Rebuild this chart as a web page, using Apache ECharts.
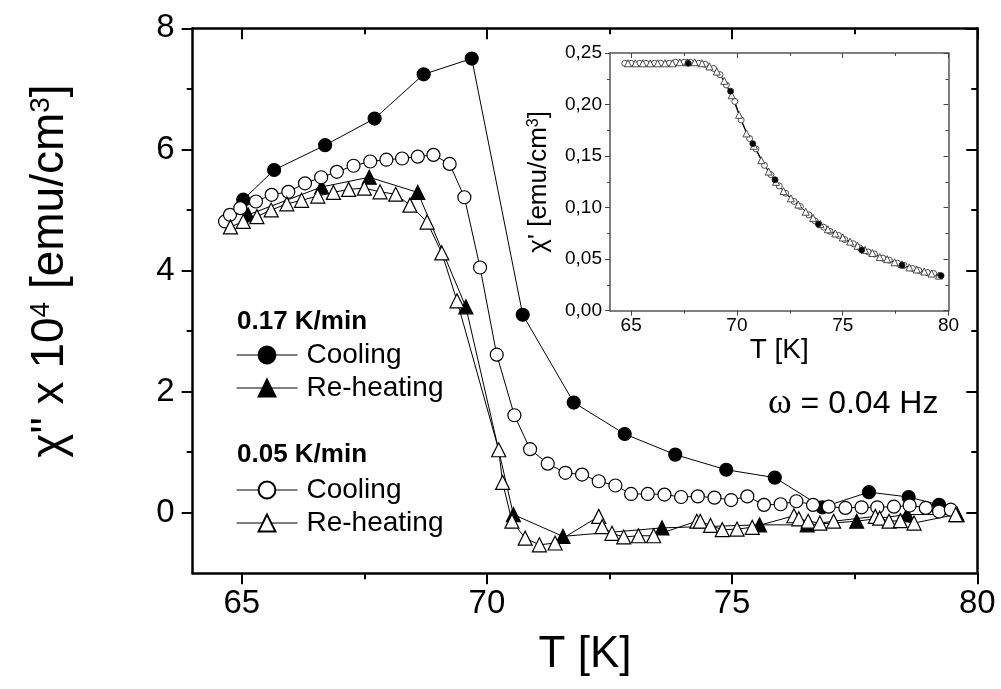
<!DOCTYPE html>
<html>
<head>
<meta charset="utf-8">
<script src="https://cdn.jsdelivr.net/npm/echarts@6/dist/echarts.min.js"></script>
<style>html,body{margin:0;padding:0;background:#fff}#c{width:1001px;height:689px}</style>
</head>
<body>
<div id="c"></div>
<script>
// ---------- tick labels ----------
const xMajor = [65, 70, 75, 80];
const xMinor = [67.5, 72.5, 77.5];
const yMajor = [0, 2, 4, 6, 8];
const yMinor = [1, 3, 5, 7];
const inYMajor = [0, 0.05, 0.10, 0.15, 0.20, 0.25];
const inYMinor = [0.025, 0.075, 0.125, 0.175, 0.225];

// ---------- main panel: chi'' x 10^4 ----------
// 0.17 K/min cooling (filled circles)
const coolFastT = [65.03, 65.66, 66.70, 67.71, 68.71, 69.69, 70.73, 71.77, 72.81, 73.84, 74.88, 75.87, 76.84, 77.79, 78.60, 79.22];
const coolFastV = [5.17, 5.66, 6.07, 6.51, 7.24, 7.50, 3.27, 1.82, 1.30, 0.96, 0.71, 0.58, 0.09, 0.34, 0.26, 0.13];
// 0.17 K/min re-heating (filled triangles)
const heatFastT = [65.13, 66.63, 67.60, 68.59, 69.57, 70.54, 71.55, 73.57, 75.56, 76.53, 77.54, 78.57, 79.59];
const heatFastV = [4.92, 5.38, 5.54, 5.29, 3.40, -0.03, -0.39, -0.25, -0.20, -0.20, -0.14, -0.03, -0.03];
// 0.05 K/min cooling (open circles)
const coolSlowT = [64.66, 64.76, 64.97, 65.29, 65.61, 65.95, 66.29, 66.62, 66.94, 67.28, 67.62, 67.95, 68.27, 68.59, 68.91, 69.24, 69.54, 69.86, 70.20, 70.56, 70.88, 71.24, 71.60, 71.94, 72.28, 72.62, 72.94, 73.28, 73.62, 73.96, 74.30, 74.64, 74.98, 75.31, 75.65, 75.99, 76.31, 76.65, 76.97, 77.31, 77.64, 77.96, 78.30, 78.62, 78.95, 79.22, 79.46];
const coolSlowV = [4.81, 4.92, 5.03, 5.14, 5.25, 5.30, 5.44, 5.54, 5.63, 5.73, 5.80, 5.83, 5.85, 5.88, 5.91, 5.76, 5.21, 4.05, 2.61, 1.61, 1.05, 0.81, 0.66, 0.63, 0.52, 0.45, 0.31, 0.31, 0.30, 0.26, 0.27, 0.25, 0.21, 0.27, 0.13, 0.14, 0.19, 0.13, 0.10, 0.08, 0.09, 0.09, 0.10, 0.12, 0.08, 0.02, 0.05];
// 0.05 K/min re-heating (open triangles)
const heatSlowT = [64.77, 65.03, 65.31, 65.60, 65.92, 66.22, 66.55, 66.87, 67.18, 67.50, 67.82, 68.14, 68.43, 68.78, 69.08, 69.39, 70.24, 70.32, 70.51, 70.78, 71.07, 71.39, 72.28, 72.35, 72.55, 72.79, 73.09, 73.40, 74.28, 74.35, 74.56, 74.80, 75.10, 75.41, 76.26, 76.36, 76.55, 76.79, 77.07, 77.92, 78.01, 78.20, 78.43, 78.71, 79.56];
const heatSlowV = [4.72, 4.81, 4.89, 5.00, 5.10, 5.16, 5.23, 5.29, 5.34, 5.36, 5.30, 5.26, 5.08, 4.80, 4.29, 3.50, 1.04, 0.50, -0.14, -0.42, -0.53, -0.50, -0.06, -0.23, -0.34, -0.40, -0.38, -0.38, -0.14, -0.14, -0.21, -0.28, -0.27, -0.24, -0.05, -0.10, -0.14, -0.17, -0.14, -0.06, -0.09, -0.14, -0.13, -0.17, -0.03];

// ---------- inset: chi' ----------
const inCircT = [64.7, 65.0, 65.4, 65.7, 66.1, 66.4, 66.8, 67.1, 67.5, 67.8, 68.2, 68.5, 68.9, 69.2, 69.5, 69.9, 70.2, 70.6, 70.9, 71.3, 71.6, 72.0, 72.3, 72.7, 73.0, 73.4, 73.7, 74.1, 74.4, 74.8, 75.1, 75.5, 75.8, 76.2, 76.5, 76.9, 77.2, 77.6, 77.9, 78.3, 78.6, 79.0, 79.3, 79.6];
const inCircV = [0.240, 0.240, 0.240, 0.240, 0.240, 0.240, 0.240, 0.241, 0.241, 0.241, 0.240, 0.239, 0.235, 0.229, 0.219, 0.203, 0.185, 0.167, 0.157, 0.141, 0.132, 0.121, 0.114, 0.106, 0.101, 0.093, 0.087, 0.081, 0.077, 0.073, 0.069, 0.065, 0.061, 0.057, 0.055, 0.051, 0.049, 0.046, 0.044, 0.041, 0.039, 0.037, 0.036, 0.034];
const inTriT = [64.85, 65.2, 65.55, 65.9, 66.25, 66.6, 66.95, 67.3, 67.65, 68.0, 68.35, 68.7, 69.05, 69.4, 69.75, 70.1, 70.45, 70.8, 71.15, 71.5, 71.85, 72.2, 72.55, 72.9, 73.25, 73.6, 73.95, 74.3, 74.65, 75.0, 75.35, 75.7, 76.05, 76.4, 76.75, 77.1, 77.45, 77.8, 78.15, 78.5, 78.85, 79.2, 79.55];
const inTriV = [0.240, 0.240, 0.240, 0.240, 0.240, 0.240, 0.240, 0.241, 0.241, 0.241, 0.240, 0.237, 0.232, 0.223, 0.209, 0.190, 0.172, 0.160, 0.146, 0.135, 0.125, 0.116, 0.109, 0.103, 0.096, 0.090, 0.084, 0.079, 0.075, 0.071, 0.067, 0.063, 0.059, 0.056, 0.052, 0.050, 0.047, 0.045, 0.042, 0.040, 0.038, 0.036, 0.034];
const inDotT = [67.7, 69.7, 70.75, 71.8, 73.85, 75.9, 77.8, 79.65];
const inDotV = [0.240, 0.213, 0.162, 0.127, 0.084, 0.059, 0.044, 0.034];

const FONT = "'Liberation Sans', Arial, sans-serif";
const zip = (a, b) => a.map((t, i) => [t, b[i]]);

function frameAxes(gi, min, max, major, minor, positions, cfg) {
  return [0, 1, 2, 3].map(k => {
    const isMajor = k % 2 === 0;
    const inside = k >= 2;
    const ax = {
      type: 'value', gridIndex: gi, min: min, max: max,
      position: positions[inside ? 1 : 0],
      splitLine: { show: false },
      axisLine: { show: isMajor, onZero: false, lineStyle: { color: cfg.lineColor, width: cfg.lineWidth } },
      axisTick: { show: true, inside: inside, customValues: isMajor ? major : minor,
                  length: isMajor ? cfg.majorLen : cfg.minorLen,
                  lineStyle: { color: cfg.tickColor, width: cfg.tickWidth } },
      axisLabel: { show: false },
      name: ''
    };
    if (k === 0) {
      ax.axisLabel = Object.assign({ show: true, customValues: major }, cfg.label);
      if (cfg.name) {
        ax.name = cfg.name;
        ax.nameLocation = 'middle';
        ax.nameGap = cfg.nameGap;
        ax.nameTextStyle = cfg.nameTextStyle;
      }
    }
    return ax;
  });
}

const mainCfg = { lineColor: '#000', lineWidth: 2.5, tickColor: '#000', tickWidth: 2, majorLen: 11, minorLen: 6 };
const insetCfg = { lineColor: '#555', lineWidth: 1.5, tickColor: '#444', tickWidth: 1, majorLen: 5, minorLen: 3 };

const xAxes = [].concat(
  frameAxes(0, 64, 80, xMajor, xMinor, ['bottom', 'top'], Object.assign({}, mainCfg, {
    label: { fontSize: 33, color: '#000', fontFamily: FONT, margin: 14 },
    name: 'T [K]', nameGap: 60, nameTextStyle: { fontSize: 44, color: '#000', fontFamily: FONT }
  })),
  frameAxes(1, 64, 80, xMajor, xMinor, ['bottom', 'top'], Object.assign({}, insetCfg, {
    label: { fontSize: 19, color: '#000', fontFamily: FONT, margin: 6 },
    name: 'T [K]', nameGap: 21, nameTextStyle: { fontSize: 28, color: '#000', fontFamily: FONT }
  }))
);
const yAxes = [].concat(
  frameAxes(0, -1, 8, yMajor, yMinor, ['left', 'right'], Object.assign({}, mainCfg, {
    label: { fontSize: 33, color: '#000', fontFamily: FONT, margin: 18 }
  })),
  frameAxes(1, 0, 0.25, inYMajor, inYMinor, ['left', 'right'], Object.assign({}, insetCfg, {
    label: { fontSize: 19, color: '#000', fontFamily: FONT, margin: 8,
             formatter: v => v.toFixed(2).replace('.', ',') },
    name: "χ' [emu/cm{s|3}]", nameGap: 58,
    nameTextStyle: { fontSize: 26, color: '#000', fontFamily: FONT,
                     rich: { s: { fontSize: 16, verticalAlign: 'top', fontFamily: FONT, color: '#000' } } }
  }))
);

const lineBlack = { color: '#000', width: 1 };
function mainSeries(name, T, V, symbol, filled, size) {
  return {
    name: name, type: 'line', xAxisIndex: 0, yAxisIndex: 0,
    data: zip(T, V), symbol: symbol, symbolSize: size, showAllSymbol: true,
    lineStyle: lineBlack,
    itemStyle: { color: filled ? '#000' : '#fff', borderColor: '#000', borderWidth: 1.2 },
    emphasis: { disabled: true }, animation: false
  };
}
function insetSeries(name, T, V, symbol, filled, size, showLine) {
  return {
    name: name, type: 'line', xAxisIndex: 4, yAxisIndex: 4,
    data: zip(T, V), symbol: symbol, symbolSize: size, showAllSymbol: true,
    lineStyle: { color: '#000', width: showLine ? 1 : 0, opacity: showLine ? 1 : 0 },
    itemStyle: { color: filled ? '#000' : '#fff', borderColor: '#222', borderWidth: 0.8 },
    emphasis: { disabled: true }, animation: false
  };
}

const legendBase = {
  orient: 'vertical', left: 236, itemWidth: 61, itemHeight: 21, itemGap: 5, padding: 0,
  selectedMode: false,
  formatter: n => n.replace(/ \(.*\)$/, ''),
  lineStyle: { width: 1, color: '#000' },
  textStyle: { fontSize: 28, color: '#000', fontFamily: FONT, padding: [0, 0, 0, 4] }
};

const option = {
  backgroundColor: '#fff',
  animation: false,
  grid: [
    { left: 192.7, top: 28.3, right: 23.7, bottom: 115.7 },
    { left: 610, top: 53, right: 52.5, bottom: 378.3 }
  ],
  xAxis: xAxes,
  yAxis: yAxes,
  legend: [
    Object.assign({}, legendBase, { top: 341, data: ['Cooling (0.17 K/min)', 'Re-heating (0.17 K/min)'] }),
    Object.assign({}, legendBase, { top: 476, data: ['Cooling (0.05 K/min)', 'Re-heating (0.05 K/min)'] })
  ],
  graphic: [
    { type: 'text', x: 50, y: 271, rotation: Math.PI / 2,
      style: { text: 'χ" x 10{s|4} [emu/cm{s|3}]', fontSize: 46, fontFamily: FONT, fill: '#000',
               align: 'center', verticalAlign: 'middle',
               rich: { s: { fontSize: 28, verticalAlign: 'top', fontFamily: FONT, fill: '#000' } } } },
    { type: 'text', x: 237, y: 322,
      style: { text: '0.17 K/min', fontSize: 26, fontWeight: 'bold', fontFamily: FONT, fill: '#000', verticalAlign: 'middle' } },
    { type: 'text', x: 237, y: 455,
      style: { text: '0.05 K/min', fontSize: 26, fontWeight: 'bold', fontFamily: FONT, fill: '#000', verticalAlign: 'middle' } },
    { type: 'text', x: 768, y: 404,
      style: { text: '{w|ω} = 0.04 Hz', fontSize: 32, fontFamily: FONT, fill: '#000', verticalAlign: 'middle',
               rich: { w: { fontSize: 36, fontFamily: "'Liberation Serif', serif", fill: '#000' } } } }
  ],
  series: [
    mainSeries('Cooling (0.17 K/min)', coolFastT, coolFastV, 'circle', true, 13),
    mainSeries('Re-heating (0.17 K/min)', heatFastT, heatFastV, 'triangle', true, 14),
    mainSeries('Cooling (0.05 K/min)', coolSlowT, coolSlowV, 'circle', false, 13),
    mainSeries('Re-heating (0.05 K/min)', heatSlowT, heatSlowV, 'triangle', false, 14),
    insetSeries('inset 0.05 cooling', inCircT, inCircV, 'circle', false, 6, true),
    insetSeries('inset 0.05 re-heating', inTriT, inTriV, 'triangle', false, 7, true),
    insetSeries('inset 0.17 cooling', inDotT, inDotV, 'circle', true, 6, false)
  ]
};

const chart = echarts.init(document.getElementById('c'), null, { renderer: 'canvas' });
chart.setOption(option);
</script>
</body>
</html>
